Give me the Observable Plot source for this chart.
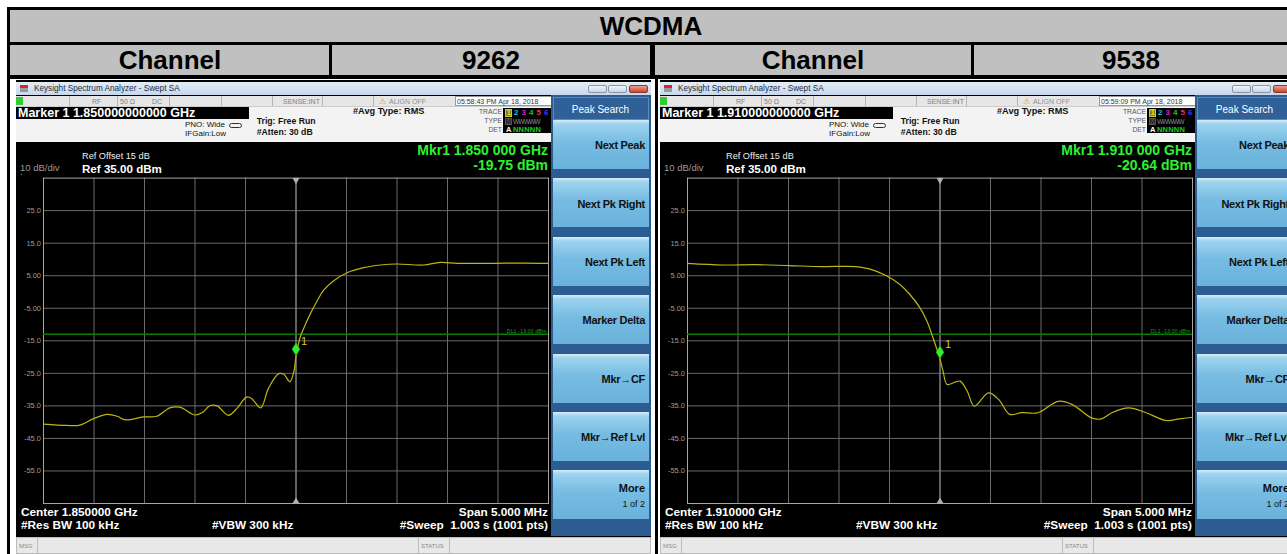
<!DOCTYPE html>
<html><head><meta charset="utf-8">
<script src="https://cdn.jsdelivr.net/npm/d3@7"></script>
<script src="https://cdn.jsdelivr.net/npm/@observablehq/plot@0.6"></script>
<style>
body{margin:0;background:#fff;width:1287px;height:554px;overflow:hidden;position:relative;font-family:"Liberation Sans",Arial,sans-serif}
.a{position:absolute;box-sizing:border-box}
.t{position:absolute;white-space:pre;line-height:1}
</style></head><body>
<script>
// ---------- data ----------
const systemName = "WCDMA";
const channelHeader = "Channel";
const channels = ["9262", "9538"];
const centerMHz = [1850, 1910];
const spanMHz = 5;
const markerFullText = ["1.850000000000 GHz", "1.910000000000 GHz"];
const markerShortText = ["1.850 000 GHz", "1.910 000 GHz"];
const markerLevels = [-19.75, -20.64];
const timestamps = ["05:58:43 PM Apr 18, 2018", "05:59:09 PM Apr 18, 2018"];
const centerText = ["Center 1.850000 GHz", "Center 1.910000 GHz"];
const displayLine = -13;
const yDomain = [-65, 35];
const yTickValues = [25, 15, 5, -5, -15, -25, -35, -45, -55];
const yTickLabels = ["25.0", "15.0", "5.00", "-5.00", "-15.0", "-25.0", "-35.0", "-45.0", "-55.0"];
const softkeys = ["Next Peak", "Next Pk Right", "Next Pk Left", "Marker Delta", "Mkr\u2192CF", "Mkr\u2192Ref Lvl", "More"];

// channel 9262 trace (MHz, dBm)
const freq9262 = [1847.50,1847.73,1847.86,1847.99,1848.13,1848.23,1848.31,1848.49,1848.62,1848.75,1848.85,1849.00,1849.07,1849.15,1849.22,1849.33,1849.42,1849.51,1849.56,1849.65,1849.73,1849.83,1849.88,1849.94,1849.98,1850.00,1850.04,1850.08,1850.14,1850.21,1850.27,1850.37,1850.51,1850.67,1850.84,1851.00,1851.26,1851.43,1851.60,1851.93,1852.26,1852.50];
const level9262 = [-40.6,-41.0,-40.9,-39.0,-37.6,-38.2,-39.3,-38.4,-38.2,-35.6,-35.4,-37.8,-37.1,-34.9,-35.0,-37.9,-35.6,-32.3,-32.7,-35.6,-29.4,-25.1,-25.3,-27.6,-24.3,-19.75,-14.0,-10.9,-6.8,-2.7,0.4,3.4,6.0,7.5,8.3,8.6,8.3,9.1,8.8,8.8,8.9,8.8];
// channel 9538 trace (MHz, dBm)
const freq9538 = [1907.50,1907.85,1908.18,1908.51,1908.84,1909.17,1909.30,1909.47,1909.60,1909.70,1909.80,1909.87,1909.93,1910.00,1910.03,1910.07,1910.15,1910.20,1910.27,1910.34,1910.48,1910.58,1910.69,1910.81,1910.97,1911.17,1911.31,1911.50,1911.60,1911.70,1911.87,1912.04,1912.24,1912.37,1912.50];
const level9538 = [8.8,8.3,8.4,8.1,7.8,7.8,7.1,5.0,2.4,-0.7,-4.8,-8.9,-14.0,-20.64,-24.3,-28.4,-27.7,-27.4,-30.5,-35.1,-31.0,-33.0,-37.6,-37.1,-37.1,-33.6,-34.6,-38.7,-39.0,-37.1,-35.6,-37.1,-39.5,-39.0,-38.5];

const traceFreqs = [freq9262, freq9538];
const traceLevels = [level9262, level9538];

// ---------- helpers ----------
function box(p, x, y, w, h, st = {}) {
  const d = document.createElement("div");
  d.className = "a";
  Object.assign(d.style, {left: x + "px", top: y + "px", width: w + "px", height: h + "px"}, st);
  p.appendChild(d);
  return d;
}
function txt(p, s, x, y, fs, o = {}) {
  const d = document.createElement("div");
  d.className = "t";
  d.textContent = s;
  d.style.left = x + "px";
  d.style.top = (y - 0.85 * fs) + "px";
  d.style.fontSize = fs + "px";
  d.style.color = o.color || "#000";
  d.style.fontWeight = o.bold ? "bold" : "normal";
  if (o.anchor === "end") d.style.transform = "translateX(-100%)";
  else if (o.anchor === "middle") d.style.transform = "translateX(-50%)";
  if (o.ls) d.style.letterSpacing = o.ls + "px";
  p.appendChild(d);
  return d;
}
const B = document.body;
const black = {background: "#000"};
const gray = {background: "#c0c0c0"};

// ---------- table ----------
box(B, 7, 7, 1300, 3, black);
box(B, 7, 7, 3, 547, black);
box(B, 10, 10, 1297, 32, gray);
box(B, 10, 42, 1297, 3, black);
box(B, 10, 45, 1297, 30, gray);
box(B, 10, 75, 1297, 4, black);
box(B, 329, 45, 3, 30, black);
box(B, 650, 45, 5, 30, black);
box(B, 971, 45, 3, 30, black);
box(B, 655, 79, 3, 475, black);
txt(B, systemName, 651, 35, 26, {bold: true, anchor: "middle"});
txt(B, channelHeader, 170, 69.5, 26, {bold: true, anchor: "middle"});
txt(B, channels[0], 491, 69.5, 26, {bold: true, anchor: "middle"});
txt(B, channelHeader, 813, 69.5, 26, {bold: true, anchor: "middle"});
txt(B, channels[1], 1131, 69.5, 26, {bold: true, anchor: "middle"});

// custom elongated diamond for marker
const tallDiamond = {
  draw(ctx, size) {
    const r = Math.sqrt(size);
    const w = r * 0.5, h = r * 0.78;
    ctx.moveTo(0, -h); ctx.lineTo(w, 0); ctx.lineTo(0, h); ctx.lineTo(-w, 0); ctx.closePath();
  }
};
const labelFor = new Map(yTickValues.map((v, i) => [v, yTickLabels[i]]));

function screen(i, x0) {
  const s = box(B, x0, 80, 635, 474, {background: "#000", overflow: "hidden"});
  // title bar
  box(s, 0, 2, 635, 13, {background: "linear-gradient(#e3edf8,#c6d8ec)"});
  box(s, 4, 5, 8, 7, {background: "linear-gradient(#d23 0 45%, #999 45%)"});
  txt(s, "Keysight Spectrum Analyzer - Swept SA", 18, 12, 8.2, {color: "#1d2a3a"});
  box(s, 572, 5, 19, 8, {background: "linear-gradient(#f2f5f9,#c9d3df)", border: "1px solid #8796aa", borderRadius: "2px"});
  box(s, 592, 5, 19, 8, {background: "linear-gradient(#f2f5f9,#c9d3df)", border: "1px solid #8796aa", borderRadius: "2px"});
  box(s, 613, 5, 19, 8, {background: "linear-gradient(#eaa08e,#c9442e)", border: "1px solid #8a3a2a", borderRadius: "2px"});
  // status row
  box(s, 0, 16, 536, 10, {background: "#e6e6e6"});
  box(s, 0, 17, 7, 8, {background: "#33cc33"});
  [53, 101, 153, 205, 256, 306, 357].forEach(x => box(s, x, 16, 1, 10, {background: "#b5b5b5"}));
  txt(s, "RF", 76, 24, 7, {color: "#808080"});
  txt(s, "50 \u03A9", 104, 24, 7, {color: "#808080"});
  txt(s, "DC", 136, 24, 7, {color: "#808080"});
  txt(s, "SENSE:INT", 267, 24, 7, {color: "#808080"});
  txt(s, "\u26A0", 363, 24.5, 8, {color: "#d4a000"});
  txt(s, "ALIGN OFF", 373, 24, 7, {color: "#909090"});
  box(s, 439, 16, 97, 10, {background: "#fff", border: "1px solid #9a9a9a"});
  txt(s, timestamps[i], 441, 24, 7, {color: "#333"});
  // header panel
  box(s, 0, 26, 536, 36, {background: "#f3f3f3", borderTop: "1px solid #ccc"});
  box(s, 0, 27, 233, 12, {background: "#000"});
  txt(s, "Marker 1 " + markerFullText[i], 2, 37.7, 12.5, {bold: true, color: "#fff"});
  txt(s, "PNO: Wide", 209, 48, 8, {color: "#111", anchor: "end"});
  txt(s, "IFGain:Low", 210, 57, 8, {color: "#111", anchor: "end"});
  box(s, 213, 43, 13, 5, {border: "1.5px solid #333", borderRadius: "3px"});
  txt(s, "Trig: Free Run", 240.7, 44.3, 8.7, {bold: true, color: "#111"});
  txt(s, "#Atten: 30 dB", 240.7, 55, 8.7, {bold: true, color: "#111"});
  txt(s, "#Avg Type: RMS", 337, 35, 9.2, {bold: true, color: "#111"});
  txt(s, "TRACE", 486, 34.3, 6.8, {color: "#555", anchor: "end"});
  txt(s, "TYPE", 486, 43.3, 6.8, {color: "#555", anchor: "end"});
  txt(s, "DET", 486, 52.3, 6.8, {color: "#555", anchor: "end"});
  box(s, 487, 28, 48, 25, {background: "#000"});
  box(s, 489, 29, 7, 8, {background: "#7a7a30", border: "1px solid #cc3"});
  const tc = ["#e8e000", "#19c6de", "#d21ed2", "#20c020", "#e8306a", "#3a3aff"];
  tc.forEach((c, k) => txt(s, String(k + 1), 490.5 + k * 7.5, 35.6, 8, {bold: true, color: c}));
  box(s, 489, 38, 7, 7, {background: "#555"});
  txt(s, "M", 489.5, 44.3, 7, {color: "#222", bold: true});
  txt(s, "WWWWW", 497, 44.3, 6.6, {color: "#8a8a8a", ls: -0.9});
  txt(s, "A", 490, 52.3, 7.5, {color: "#fff", bold: true});
  txt(s, "NNNNN", 497, 52.3, 7.5, {color: "#22cc22", bold: true, ls: 0.2});
  // black area texts
  txt(s, "10 dB/div", 4, 91.5, 9.5, {color: "#9a9a9a"});
  txt(s, "Log", 4, 100.5, 9.5, {color: "#9a9a9a"});
  txt(s, "Ref Offset 15 dB", 66, 80.3, 9.2, {color: "#eee"});
  txt(s, "Ref 35.00 dBm", 66, 92.7, 11.6, {color: "#fff", bold: true});
  txt(s, "Mkr1 " + markerShortText[i], 532, 75.3, 14, {color: "#2ff02f", bold: true, anchor: "end"});
  txt(s, markerLevels[i].toFixed(2) + " dBm", 532, 90, 14, {color: "#2ff02f", bold: true, anchor: "end"});

  // ---------- Plot chart ----------
  const c = centerMHz[i];
  const data = traceFreqs[i].map((f, k) => ({f, l: traceLevels[i][k]}));
  const mk = [{f: c, l: markerLevels[i]}];
  const chart = Plot.plot({
    width: 535, height: 335,
    marginLeft: 27, marginRight: 3, marginTop: 2.6, marginBottom: 7,
    style: {background: "#000", color: "#9c9c9c", fontFamily: "Liberation Sans, Arial, sans-serif", fontSize: "7.5px"},
    x: {domain: [c - spanMHz / 2, c + spanMHz / 2], axis: null},
    y: {domain: yDomain},
    marks: [
      Plot.gridX({ticks: 10, stroke: "#6a6a6a", strokeOpacity: 1}),
      Plot.gridY(yTickValues, {stroke: "#6a6a6a", strokeOpacity: 1}),
      Plot.ruleX([c], {stroke: "#8f8f8f"}),
      Plot.frame({stroke: "#a5a5a5"}),
      Plot.axisY(yTickValues, {tickSize: 0, tickPadding: 2.5, tickFormat: d => labelFor.get(d), label: null, fontSize: 7.5}),
      Plot.ruleY([displayLine], {stroke: "#0c7c0c", strokeWidth: 1.6}),
      Plot.text([displayLine], {y: d => d, frameAnchor: "right", text: d => `DL1 ${d.toFixed(2)} dBm`, textAnchor: "end", dx: -2, dy: -3.5, fill: "#1f9f1f", fontSize: 5.5}),
      Plot.line(data, {x: "f", y: "l", stroke: "#bdb512", strokeWidth: 1.2, curve: "catmull-rom"}),
      Plot.dot([c], {x: d => d, y: () => yDomain[1], symbol: "triangle", r: 2.6, fill: "#b0b0b0", rotate: 180, dy: 2}),
      Plot.dot([c], {x: d => d, y: () => yDomain[0], symbol: "triangle", r: 2.6, fill: "#b0b0b0", dy: -2}),
      Plot.dot(mk, {x: "f", y: "l", symbol: tallDiamond, r: 4.6, fill: "#33ee33", stroke: "#118811", strokeWidth: 0.5, dy: -7}),
      Plot.text(mk, {x: "f", y: "l", text: () => "1", dx: 8, dy: -15, fill: "#d8cc20", fontSize: 11})
    ]
  });
  chart.style.position = "absolute";
  chart.style.left = "0px";
  chart.style.top = "95px";
  s.appendChild(chart);

  // bottom texts
  txt(s, centerText[i], 5, 436.7, 11.8, {bold: true, color: "#fff"});
  txt(s, "#Res BW 100 kHz", 5, 450, 11.8, {bold: true, color: "#fff"});
  txt(s, "#VBW 300 kHz", 196, 450, 11.8, {bold: true, color: "#fff"});
  txt(s, "Span 5.000 MHz", 532, 436.7, 11.8, {bold: true, color: "#fff", anchor: "end"});
  txt(s, "#Sweep  1.003 s (1001 pts)", 532, 450, 11.8, {bold: true, color: "#fff", anchor: "end"});
  // msg bar
  box(s, 0, 457, 635, 17, {background: "#e8e8e8", border: "1px solid #bdbdbd"});
  box(s, 21, 458, 1, 15, {background: "#bdbdbd"});
  box(s, 402, 458, 1, 15, {background: "#bdbdbd"});
  box(s, 433, 458, 1, 15, {background: "#bdbdbd"});
  txt(s, "MSG", 3, 468, 6, {color: "#888"});
  txt(s, "STATUS", 405, 468, 6, {color: "#888"});
  // softkeys
  box(s, 535, 15, 100, 441, {background: "#2c5c91"});
  box(s, 537, 17, 96, 23, {background: "#2f6098", border: "1px solid #5d89bb"});
  txt(s, "Peak Search", 584.5, 33, 10, {color: "#fff", anchor: "middle"});
  softkeys.forEach((k, j) => {
    const top = 40 + j * 58.4;
    box(s, 537, top, 96, 49, {background: "linear-gradient(#d6eefa 0, #9dd3ee 8%, #76bce2 45%, #6ab2dc 100%)"});
    if (k === "More") {
      txt(s, k, 629, top + 22.3, 11, {bold: true, color: "#111", anchor: "end"});
      txt(s, "1 of 2", 629, top + 37, 9, {color: "#111", anchor: "end"});
    } else {
      txt(s, k, 629, top + 29.5, 11, {bold: true, color: "#111", anchor: "end", ls: -0.3});
    }
  });
}
screen(0, 16);
screen(1, 660);
</script>
</body></html>
